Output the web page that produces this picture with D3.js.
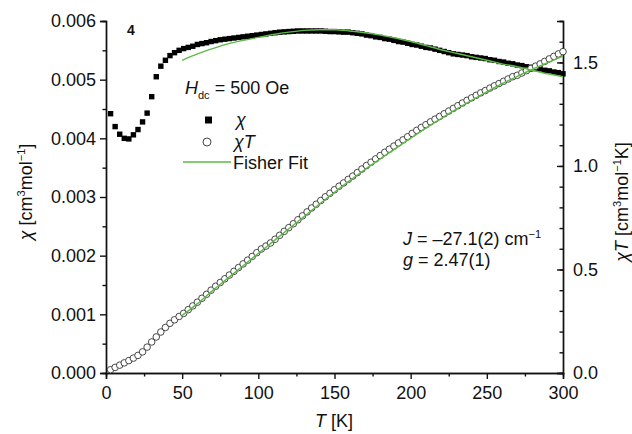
<!DOCTYPE html>
<html>
<head>
<meta charset="utf-8">
<script src="https://cdn.jsdelivr.net/npm/d3@7"></script>
<style>
  body { margin: 0; background: #fff; }
  svg text { font-family: "Liberation Sans", Arial, sans-serif; fill: #111; }
</style>
</head>
<body>
<svg id="chart" width="632" height="434"></svg>
<script>
// temperatures (K) for the measured points
const temps = [3,6,9,12,15,18,21,24,27,30,33,36,39,42,45,48,51,54,57,60,
  63,66,69,72,75,78,81,84,87,90,93,96,99,102,105,108,111,114,117,120,
  123,126,129,132,135,138,141,144,147,150,153,156,159,162,165,168,171,174,177,180,
  183,186,189,192,195,198,201,204,207,210,213,216,219,222,225,228,231,234,237,240,
  243,246,249,252,255,258,261,264,267,270,273,276,279,282,285,288,291,294,297,300];

// chi (x 1e-3 cm3/mol)
const chiVals = [4.42,4.20,4.07,4.00,3.99,4.06,4.15,4.28,4.43,4.71,5.05,5.23,5.33,5.41,5.46,5.50,5.53,5.55,5.57,5.60,
  5.615,5.63,5.65,5.665,5.68,5.69,5.70,5.71,5.72,5.73,5.74,5.75,5.76,5.77,5.78,5.79,5.80,5.81,5.815,5.82,
  5.825,5.83,5.83,5.83,5.83,5.83,5.83,5.825,5.82,5.82,5.815,5.81,5.81,5.80,5.79,5.78,5.76,5.75,5.73,5.72,
  5.70,5.69,5.67,5.65,5.64,5.62,5.60,5.59,5.57,5.55,5.54,5.52,5.50,5.48,5.46,5.44,5.43,5.42,5.41,5.39,
  5.38,5.37,5.36,5.34,5.33,5.31,5.30,5.28,5.27,5.25,5.24,5.22,5.21,5.19,5.18,5.16,5.15,5.13,5.12,5.10];

// chi*T (cm3 K/mol)
const chiTVals = [0.016,0.027,0.038,0.049,0.060,0.072,0.085,0.102,0.125,0.150,0.174,0.198,0.220,0.240,0.257,0.273,0.288,0.306,0.324,0.342,
  0.361,0.380,0.400,0.419,0.437,0.455,0.473,0.491,0.509,0.527,0.545,0.563,0.581,0.599,0.613,0.628,0.646,0.665,0.684,0.702,
  0.721,0.740,0.759,0.778,0.797,0.815,0.833,0.851,0.868,0.885,0.902,0.918,0.935,0.951,0.968,0.985,1.002,1.018,1.034,1.050,
  1.066,1.081,1.096,1.111,1.126,1.141,1.157,1.172,1.186,1.199,1.213,1.226,1.239,1.252,1.265,1.278,1.291,1.304,1.317,1.329,
  1.341,1.353,1.364,1.376,1.387,1.398,1.409,1.420,1.431,1.438,1.449,1.460,1.471,1.482,1.493,1.505,1.517,1.529,1.541,1.552];

// Fisher fit curves
const fitTemps = [50,60,70,80,90,100,110,120,130,140,150,160,170,180,190,200,210,220,230,240,250,260,270,280,290,300];
const fitChi = [5.33,5.44,5.53,5.61,5.67,5.72,5.77,5.81,5.84,5.85,5.85,5.83,5.80,5.76,5.71,5.65,5.58,5.51,5.45,5.39,5.33,5.27,5.22,5.16,5.10,5.05];
const fitChiT = [0.278,0.335,0.398,0.458,0.518,0.578,0.637,0.697,0.756,0.815,0.873,0.929,0.983,1.034,1.084,1.134,1.183,1.229,1.274,1.317,1.358,1.397,1.433,1.467,1.499,1.530];

const xTicks = [0,50,100,150,200,250,300];
const yLeftTicks = [0,0.001,0.002,0.003,0.004,0.005,0.006];
const yRightTicks = [0,0.5,1.0,1.5];

const svg = d3.select("#chart");
const plotL = 106, plotR = 563, plotT = 21, plotB = 373;
const green = "#5cba45";

const x = d3.scaleLinear().domain([0, 300]).range([plotL, plotR]);
const yL = d3.scaleLinear().domain([0, 0.006]).range([plotB, plotT]);
const yR = d3.scaleLinear().domain([0, 1.7]).range([plotB, plotT]);

const tickStyle = (g) => {
  g.select(".domain").attr("stroke", "#111").attr("stroke-width", 1.4);
  g.selectAll("line").attr("stroke", "#111").attr("stroke-width", 1.4);
  g.selectAll("text").style("font-size", "18px").attr("fill", "#111");
};

// minor ticks first, majors over them
svg.append("g")
  .attr("transform", `translate(0,${plotB})`)
  .call(d3.axisBottom(x).tickValues(d3.range(25, 300, 50)).tickSize(3.5).tickFormat(""))
  .call(tickStyle);
svg.append("g")
  .attr("transform", `translate(0,${plotB})`)
  .call(d3.axisBottom(x).tickValues(xTicks).tickSize(6).tickPadding(7).tickFormat(d3.format("d")))
  .call(tickStyle);

svg.append("g")
  .attr("transform", `translate(${plotL},0)`)
  .call(d3.axisLeft(yL).tickValues(d3.range(0.0005, 0.006, 0.001)).tickSize(3.5).tickFormat(""))
  .call(tickStyle);
svg.append("g")
  .attr("transform", `translate(${plotL},0)`)
  .call(d3.axisLeft(yL).tickValues(yLeftTicks).tickSize(6).tickPadding(4).tickFormat(d3.format(".3f")))
  .call(tickStyle);

svg.append("g")
  .attr("transform", `translate(${plotR},0)`)
  .call(d3.axisRight(yR).tickValues(d3.range(0.1, 1.75, 0.1)).tickSize(-3.5).tickFormat(""))
  .call(tickStyle);
svg.append("g")
  .attr("transform", `translate(${plotR},0)`)
  .call(d3.axisRight(yR).tickValues(yRightTicks).tickSize(-6).tickPadding(10).tickFormat(d3.format(".1f")))
  .call(tickStyle);

// chi: filled squares
const chiData = temps.map((t, i) => ({ t: t, v: chiVals[i] / 1000 }));
svg.append("g").selectAll("rect")
  .data(chiData)
  .join("rect")
  .attr("x", (d) => x(d.t) - 2.7)
  .attr("y", (d) => yL(d.v) - 2.7)
  .attr("width", 5.4)
  .attr("height", 5.4)
  .attr("fill", "#000");

// chiT: open circles
const chiTData = temps.map((t, i) => ({ t: t, v: chiTVals[i] }));
svg.append("g").selectAll("circle")
  .data(chiTData)
  .join("circle")
  .attr("cx", (d) => x(d.t))
  .attr("cy", (d) => yR(d.v))
  .attr("r", 3.3)
  .attr("fill", "#fff")
  .attr("stroke", "#333")
  .attr("stroke-width", 0.9);

// fits
const fitLine = (yScale, vals, k) => d3.line()
  .x((d) => x(d))
  .y((d, i) => yScale(vals[i] * k))
  .curve(d3.curveMonotoneX);
svg.append("path")
  .attr("d", fitLine(yL, fitChi, 0.001)(fitTemps))
  .attr("fill", "none").attr("stroke", green).attr("stroke-width", 1.4);
svg.append("path")
  .attr("d", fitLine(yR, fitChiT, 1)(fitTemps))
  .attr("fill", "none").attr("stroke", green).attr("stroke-width", 1.4);

// sample number
svg.append("text").attr("x", 127).attr("y", 35)
  .style("font-size", "14px").style("font-weight", "bold").text("4");

// legend
const lg = svg.append("g");
const hdc = lg.append("text").attr("x", 185).attr("y", 94).style("font-size", "18px");
hdc.append("tspan").style("font-style", "italic").text("H");
hdc.append("tspan").style("font-size", "11px").attr("dy", 5).text("dc");
hdc.append("tspan").attr("dy", -5).text(" = 500 Oe");

lg.append("rect").attr("x", 205).attr("y", 116.5).attr("width", 7).attr("height", 7).attr("fill", "#000");
lg.append("text").attr("x", 236).attr("y", 126).style("font-size", "18px").style("font-style", "italic").text("χ");
lg.append("circle").attr("cx", 207).attr("cy", 142).attr("r", 4).attr("fill", "#fff").attr("stroke", "#333").attr("stroke-width", 0.9);
const lt = lg.append("text").attr("x", 234).attr("y", 148).style("font-size", "18px").style("font-style", "italic");
lt.append("tspan").text("χ");
lt.append("tspan").text("T");
lg.append("line").attr("x1", 183).attr("x2", 231).attr("y1", 162).attr("y2", 162)
  .attr("stroke", green).attr("stroke-width", 1.4);
lg.append("text").attr("x", 233).attr("y", 169).style("font-size", "18px").text("Fisher Fit");

// fit parameters
const jt = svg.append("text").attr("x", 403).attr("y", 245).style("font-size", "18px");
jt.append("tspan").style("font-style", "italic").text("J");
jt.append("tspan").text(" = –27.1(2) cm");
jt.append("tspan").style("font-size", "11px").attr("dy", -7).text("−1");
const gt = svg.append("text").attr("x", 403).attr("y", 266).style("font-size", "18px");
gt.append("tspan").style("font-style", "italic").text("g");
gt.append("tspan").text(" = 2.47(1)");

// axis titles
const xt = svg.append("text").attr("x", 334).attr("y", 427)
  .attr("text-anchor", "middle").style("font-size", "18px");
xt.append("tspan").style("font-style", "italic").text("T");
xt.append("tspan").text("  [K]");

const ylt = svg.append("text").attr("transform", "translate(32,192) rotate(-90)")
  .attr("text-anchor", "middle").style("font-size", "18px");
ylt.append("tspan").style("font-style", "italic").text("χ");
ylt.append("tspan").text("  [cm");
ylt.append("tspan").style("font-size", "11px").attr("dy", -7).text("3");
ylt.append("tspan").attr("dy", 7).text("mol");
ylt.append("tspan").style("font-size", "11px").attr("dy", -7).text("−1");
ylt.append("tspan").attr("dy", 7).text("]");

const yrt = svg.append("text").attr("transform", "translate(628,202) rotate(-90)")
  .attr("text-anchor", "middle").style("font-size", "18px");
yrt.append("tspan").style("font-style", "italic").text("χT");
yrt.append("tspan").text("  [cm");
yrt.append("tspan").style("font-size", "11px").attr("dy", -7).text("3");
yrt.append("tspan").attr("dy", 7).text("mol");
yrt.append("tspan").style("font-size", "11px").attr("dy", -7).text("−1");
yrt.append("tspan").attr("dy", 7).text("K]");
</script>
</body>
</html>
